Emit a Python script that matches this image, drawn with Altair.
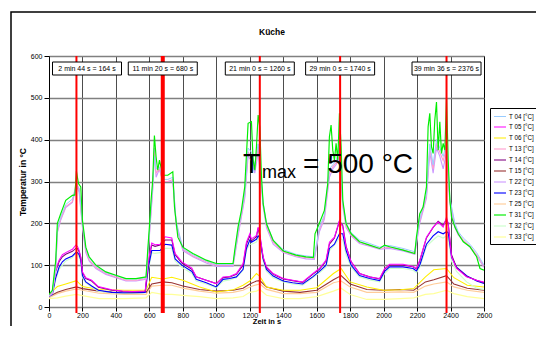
import altair as alt
import pandas as pd

# ---------------- data ----------------
series_names = ["T 04 [°C]", "T 05 [°C]", "T 06 [°C]", "T 13 [°C]", "T 14 [°C]", "T 15 [°C]",
                "T 22 [°C]", "T 23 [°C]", "T 25 [°C]", "T 31 [°C]", "T 32 [°C]", "T 33 [°C]"]

# T 31 (green, hottest)
t_hi = [0, 20, 40, 50, 70, 100, 140, 155, 164, 176, 190, 200, 220, 240, 280, 340, 400, 460, 520, 580,
        590, 600, 610, 620, 630, 640, 650, 660, 680, 710, 740, 750, 770, 800, 860, 940, 1000, 1060, 1100, 1110,
        1130, 1150, 1170, 1190, 1210, 1220, 1230, 1240, 1250, 1260, 1270, 1280, 1300, 1340, 1400, 1476, 1536, 1580, 1590, 1616,
        1646, 1666, 1676, 1686, 1696, 1706, 1716, 1726, 1736, 1746, 1756, 1776, 1806, 1856, 1916, 1976, 2006, 2036, 2116, 2186,
        2196, 2216, 2236, 2256, 2266, 2276, 2286, 2296, 2306, 2316, 2326, 2336, 2346, 2356, 2366, 2376, 2386, 2396, 2406, 2426,
        2446, 2476, 2516, 2556, 2576, 2600]
t31 = [30, 40, 110, 200, 223, 255, 267, 268, 325, 295, 287, 207, 143, 120, 100, 84, 76, 68, 68, 72,
       135, 191, 255, 303, 410, 359, 327, 351, 315, 315, 323, 239, 167, 143, 128, 112, 104, 104, 104, 135,
       191, 231, 287, 439, 443, 351, 327, 383, 459, 430, 311, 247, 199, 159, 134, 124, 120, 118, 175, 200,
       231, 295, 407, 435, 375, 351, 391, 351, 463, 383, 255, 199, 175, 156, 148, 140, 148, 144, 136, 128,
       167, 223, 239, 287, 431, 463, 383, 367, 447, 490, 375, 443, 367, 391, 375, 498, 351, 255, 215, 191,
       175, 156, 144, 120, 92, 88]

# T 04, T 13, T 22 (just below the green one)
t_h2 = [0, 20, 40, 50, 70, 100, 140, 164, 180, 200,
        220, 240, 280, 340, 400, 460, 520, 580, 590, 600,
        620, 630, 640, 660, 680, 710, 740, 760, 800, 860,
        940, 1000, 1060, 1100, 1130, 1170, 1190, 1210, 1230, 1250,
        1260, 1280, 1300, 1340, 1400, 1476, 1536, 1586, 1616, 1646,
        1676, 1696, 1716, 1736, 1756, 1776, 1806, 1856, 1916, 1976,
        2036, 2116, 2186, 2216, 2256, 2276, 2296, 2316, 2336, 2356,
        2376, 2396, 2426, 2446, 2476, 2516, 2556, 2600]
t04 = [28, 35, 95, 185, 215, 245, 258, 290, 285, 200,
       140, 118, 98, 82, 75, 67, 67, 70, 125, 180,
       290, 360, 330, 335, 305, 305, 310, 205, 140, 125,
       110, 102, 102, 102, 180, 270, 380, 370, 340, 390,
       350, 250, 200, 160, 137, 126, 122, 120, 190, 220,
       330, 340, 350, 380, 250, 200, 178, 160, 152, 143,
       147, 140, 132, 210, 270, 390, 340, 400, 380, 360,
       390, 260, 200, 180, 165, 150, 130, 100]
t13 = [27, 33, 90, 180, 210, 240, 252, 300, 280, 195,
       135, 113, 95, 80, 72, 64, 64, 68, 120, 175,
       285, 370, 320, 330, 300, 300, 305, 200, 138, 122,
       108, 100, 100, 100, 175, 265, 370, 360, 330, 380,
       340, 245, 195, 155, 132, 122, 118, 117, 185, 215,
       320, 335, 345, 370, 245, 195, 172, 155, 147, 140,
       143, 137, 128, 205, 265, 380, 330, 390, 370, 350,
       380, 255, 195, 175, 160, 145, 125, 98]
t22 = [26, 32, 88, 178, 208, 238, 250, 290, 275, 190,
       130, 110, 92, 78, 70, 62, 62, 66, 115, 170,
       280, 380, 310, 330, 300, 300, 300, 195, 135, 120,
       105, 97, 97, 97, 170, 260, 360, 350, 320, 370,
       330, 240, 190, 150, 130, 120, 115, 114, 180, 210,
       310, 330, 340, 360, 240, 190, 170, 152, 145, 138,
       140, 134, 126, 200, 260, 370, 320, 380, 360, 330,
       370, 250, 190, 172, 158, 143, 122, 95]

# T 05, T 14, T 23, T 32 (middle group)
t_mid = [0, 20, 40, 60, 80, 100, 140, 160, 170, 180,
         190, 200, 220, 255, 295, 375, 440, 500, 575, 594,
         614, 634, 664, 694, 734, 754, 794, 854, 880, 940,
         1000, 1040, 1080, 1120, 1160, 1180, 1200, 1210, 1240, 1250,
         1260, 1280, 1300, 1340, 1400, 1456, 1516, 1576, 1616, 1656,
         1676, 1706, 1736, 1756, 1776, 1806, 1856, 1916, 1976, 2006,
         2036, 2116, 2176, 2196, 2216, 2256, 2296, 2326, 2356, 2376,
         2386, 2406, 2436, 2496, 2556, 2600]
t05 = [28, 35, 88, 112, 125, 130, 138, 148, 145, 135,
       120, 84, 70, 64, 49, 41, 38, 37, 38, 112,
       153, 149, 150, 168, 165, 128, 108, 93, 72, 64,
       56, 72, 73, 80, 104, 155, 175, 163, 171, 191,
       175, 120, 96, 80, 68, 64, 60, 80, 92, 112,
       155, 167, 207, 191, 143, 108, 80, 72, 68, 92,
       102, 102, 97, 92, 112, 167, 191, 203, 191, 215,
       199, 120, 92, 72, 64, 60]
t14 = [27, 33, 85, 108, 120, 126, 133, 140, 140, 132,
       118, 82, 68, 62, 47, 40, 37, 36, 37, 108,
       148, 145, 148, 160, 160, 125, 105, 90, 72, 64,
       56, 70, 72, 78, 100, 150, 170, 158, 168, 188,
       170, 118, 94, 78, 67, 63, 59, 78, 90, 110,
       150, 165, 205, 195, 145, 108, 80, 72, 67, 90,
       100, 100, 96, 91, 110, 165, 190, 205, 195, 210,
       200, 125, 94, 73, 64, 58]
t23 = [26, 30, 70, 95, 108, 115, 122, 130, 130, 125,
       112, 75, 60, 50, 40, 35, 34, 34, 35, 95,
       135, 135, 135, 150, 148, 115, 100, 85, 66, 58,
       48, 66, 68, 72, 90, 140, 160, 155, 162, 170,
       165, 115, 90, 74, 62, 58, 55, 72, 85, 100,
       140, 150, 175, 175, 135, 100, 75, 68, 63, 85,
       96, 96, 92, 86, 100, 150, 170, 180, 175, 180,
       178, 120, 95, 75, 62, 56]
t32 = [25, 30, 65, 90, 100, 110, 118, 128, 125, 120,
       108, 70, 58, 48, 38, 34, 33, 33, 34, 90,
       130, 128, 130, 140, 140, 110, 95, 80, 62, 55,
       46, 62, 65, 70, 88, 135, 150, 150, 155, 165,
       160, 110, 85, 70, 60, 55, 52, 70, 82, 95,
       135, 148, 165, 160, 125, 95, 72, 65, 60, 80,
       92, 92, 88, 82, 95, 145, 160, 170, 165, 170,
       165, 110, 85, 60, 45, 42]

# T 06, T 15, T 25, T 33 (lowest group)
t_low = [0, 50, 100, 164, 200, 300, 450, 580, 614, 680,
         734, 800, 900, 1000, 1100, 1160, 1200, 1240, 1260, 1300,
         1400, 1500, 1600, 1700, 1746, 1800, 1900, 2000, 2100, 2180,
         2250, 2300, 2376, 2420, 2500, 2600]
t06 = [30, 49, 55, 63, 49, 42, 40, 40, 71, 67, 71, 64, 48, 36, 41, 52, 62, 80, 73, 48,
       40, 40, 46, 80, 92, 60, 48, 40, 41, 44, 72, 89, 92, 70, 52, 48]
t15 = [25, 35, 42, 48, 44, 38, 33, 35, 55, 60, 58, 50, 42, 38, 40, 45, 55, 62, 63, 48,
       38, 35, 40, 65, 75, 55, 42, 40, 42, 40, 60, 65, 75, 55, 45, 40]
t25 = [22, 32, 38, 43, 40, 33, 30, 30, 50, 52, 52, 45, 38, 33, 35, 40, 48, 53, 55, 42,
       32, 32, 35, 58, 62, 48, 35, 35, 36, 35, 50, 55, 60, 48, 40, 35]
t33 = [20, 22, 26, 30, 27, 20, 20, 22, 35, 30, 30, 28, 25, 20, 22, 25, 35, 38, 42, 28,
       20, 20, 25, 38, 45, 30, 18, 18, 20, 22, 30, 32, 40, 32, 25, 20]

event_t = [164, 680, 1260, 1740, 2376]
event_labels = ["2 min 44 s = 164 s", "11 min 20 s = 680 s", "21 min 0 s = 1260 s",
                "29 min 0 s = 1740 s", "39 min 36 s = 2376 s"]

# ---------------- styling ----------------
colors = ["#99ccff", "#ff00ff", "#ffee00", "#ff99cc", "#800080", "#993333",
          "#cc99ff", "#0000ff", "#ffcc99", "#00ee00", "#ccffcc", "#ffff99"]
widths = [1, 1.2, 1.2, 1, 1.2, 1.3, 1.6, 1.2, 1, 2, 1, 1]

W, H = 435, 251
XMAX = 2600

# ---------------- build tables ----------------
pairs = [
    ("T 33 [°C]", t_low, t33), ("T 25 [°C]", t_low, t25), ("T 15 [°C]", t_low, t15), ("T 06 [°C]", t_low, t06),
    ("T 32 [°C]", t_mid, t32), ("T 23 [°C]", t_mid, t23), ("T 14 [°C]", t_mid, t14), ("T 05 [°C]", t_mid, t05),
    ("T 22 [°C]", t_h2, t22), ("T 13 [°C]", t_h2, t13), ("T 04 [°C]", t_h2, t04),
    ("T 31 [°C]", t_hi, t31),
]
rows = []
for name, ts, vs in pairs:
    for t, v in zip(ts, vs):
        rows.append({"series": name, "t": t, "v": v})
df = pd.DataFrame(rows)

half_w = 34.5 * XMAX / W
ev = pd.DataFrame({"t": event_t, "label": event_labels})
ev["cx"] = ev["t"].clip(lower=(34.5 + 3.5) * XMAX / W)
ev["x1"] = ev["cx"] - half_w
ev["x2"] = ev["cx"] + half_w

one = pd.DataFrame({"a": [0]})

xscale = alt.Scale(domain=[0, XMAX], nice=False, zero=False)
x_axis = alt.Axis(values=list(range(0, XMAX + 1, 200)), title="Zeit in s", format="d",
                  labelFontSize=7, labelPadding=0, labelFlush=False, labelOverlap=False,
                  tickSize=4, tickColor="black", labelColor="black", domain=False,
                  grid=True, gridColor="black", gridWidth=0.7,
                  titleFontSize=7.5, titleFontWeight="bold", titleColor="black",
                  titleY=16.5, titleBaseline="alphabetic")
y_axis = alt.Axis(values=list(range(0, 601, 100)), title="Temperatur in °C", format="d",
                  labelFontSize=7, labelPadding=2, labelFlush=False, labelOverlap=False,
                  tickSize=5, tickColor="black", labelColor="black", domain=False,
                  grid=True, gridColor="#808080", gridWidth=1.5,
                  titleFontSize=8.5, titleFontWeight="bold", titleColor="black",
                  titleX=-27, titleY=H / 2, titleBaseline="middle")

frame = alt.Chart(one).mark_rect(fillOpacity=0, stroke="black", strokeWidth=1.5).encode(
    x=alt.value(-38), x2=alt.value(W + 200), y=alt.value(-44), y2=alt.value(H + 200))

lines = alt.Chart(df).mark_line(clip=True).encode(
    x=alt.X("t:Q", scale=xscale, axis=x_axis, title="Zeit in s"),
    y=alt.Y("v:Q", scale=alt.Scale(domain=[0, 600], nice=False), axis=y_axis, title="Temperatur in °C"),
    color=alt.Color("series:N", scale=alt.Scale(domain=series_names, range=colors),
                    legend=alt.Legend(orient="none", legendX=441, legendY=52, title=None,
                                      symbolType="M-1,0L1.4,0", symbolSize=100, symbolStrokeWidth=1.5,
                                      labelFontSize=6.3, labelColor="black", labelOffset=4,
                                      padding=3, rowPadding=1, strokeColor="black", fillColor="white")),
    strokeWidth=alt.StrokeWidth("series:N", scale=alt.Scale(domain=series_names, range=widths), legend=None),
)

rules = alt.Chart(ev).mark_rule(color="#ff0000").encode(
    x=alt.X("t:Q", scale=xscale, axis=x_axis, title="Zeit in s"), y=alt.value(0), y2=alt.value(H + 6),
    strokeWidth=alt.condition("datum.t == 680", alt.value(4), alt.value(2)))

boxes = alt.Chart(ev).mark_rect(fill="white", stroke="black", strokeWidth=1).encode(
    x=alt.X("x1:Q", scale=xscale, axis=x_axis, title="Zeit in s"), x2="x2:Q",
    y=alt.value(6), y2=alt.value(19))
box_text = alt.Chart(ev).mark_text(fontSize=7, color="black", baseline="middle").encode(
    x=alt.X("cx:Q", scale=xscale, axis=x_axis, title="Zeit in s"), y=alt.value(12.5), text="label:N")

t_big = alt.Chart(one).mark_text(text="T", fontSize=28, align="left", baseline="alphabetic",
                                 color="black").encode(x=alt.value(194), y=alt.value(117))
t_sub = alt.Chart(one).mark_text(text="max", fontSize=18, align="left", baseline="alphabetic",
                                 color="black").encode(x=alt.value(213), y=alt.value(122))
t_val = alt.Chart(one).mark_text(text="= 500 °C", fontSize=28, align="left", baseline="alphabetic",
                                 color="black").encode(x=alt.value(254), y=alt.value(117))
title = alt.Chart(one).mark_text(text="Küche", fontSize=8.5, fontWeight="bold", align="center",
                                 baseline="middle", color="black").encode(x=alt.value(223), y=alt.value(-24))

chart = alt.layer(frame, lines, rules, boxes, box_text, t_big, t_sub, t_val, title).properties(
    width=W, height=H,
    padding={"left": 41, "top": 48, "right": 52, "bottom": 19},
    autosize=alt.AutoSizeParams(type="none"),
).configure(font="Liberation Sans").configure_view(stroke="black", strokeWidth=1)

chart.save("out.html", embed_options={"renderer": "svg", "actions": False})
